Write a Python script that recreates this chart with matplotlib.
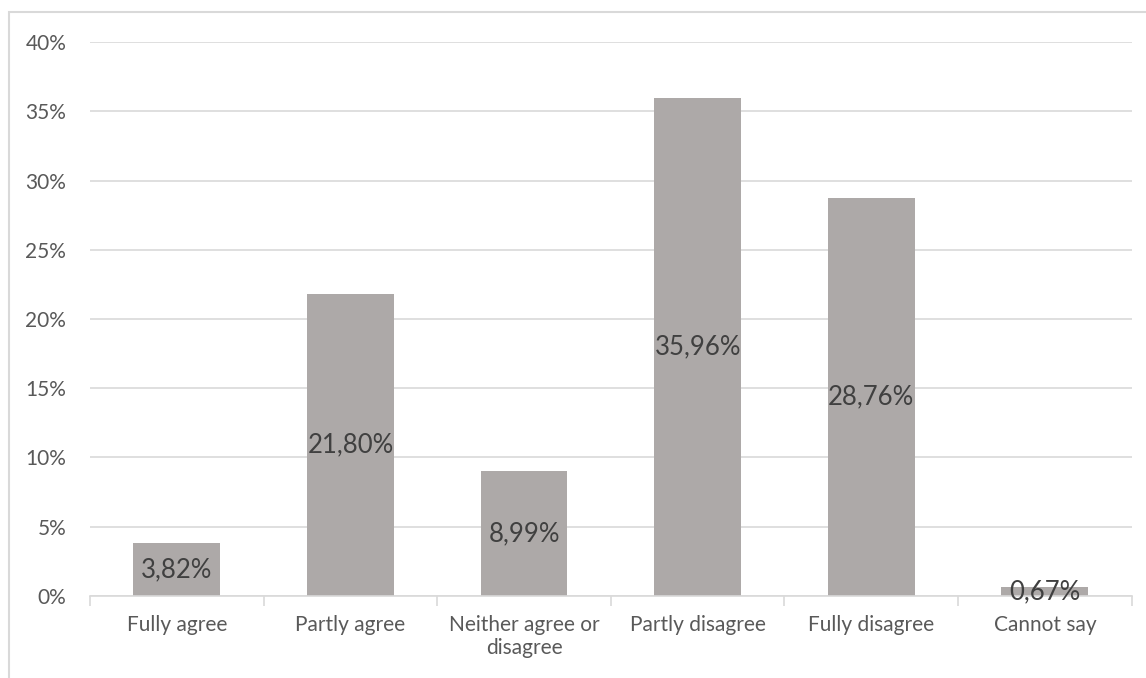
import matplotlib.pyplot as plt
from matplotlib.patches import Rectangle

categories = ['Fully agree', 'Partly agree', 'Neither agree or\ndisagree',
              'Partly disagree', 'Fully disagree', 'Cannot say']
values = [3.82, 21.80, 8.99, 35.96, 28.76, 0.67]
yticks = [0, 5, 10, 15, 20, 25, 30, 35, 40]

plt.rcParams['font.family'] = ['Lato', 'DejaVu Sans']

fig = plt.figure(figsize=(11.46, 6.78), dpi=100)
ax = fig.add_axes([0.0785, 0.121, 0.909, 0.817])

x = list(range(len(categories)))
bars = ax.bar(x, values, width=0.5, color='#ADA9A8', zorder=2)

# labels in the middle of each bar
for xi, v in zip(x, values):
    ax.text(xi, v / 2, f'{v:.2f}%'.replace('.', ','), ha='center', va='center',
            fontsize=18.5, color='#404040', zorder=3)

ax.set_xlim(-0.5, len(categories) - 0.5)
ax.set_ylim(0, 40)
ax.set_yticks(yticks)
ax.set_yticklabels([f'{t}%' for t in yticks])
ax.yaxis.grid(True, color='#D9D9D9', linewidth=1.2, zorder=0)

ax.set_xticks(x)
ax.set_xticklabels(categories, linespacing=1.15)
ax.set_xticks([i - 0.5 for i in range(len(categories) + 1)], minor=True)
ax.tick_params(axis='x', which='major', length=0, pad=14, labelsize=15, colors='#595959')
ax.tick_params(axis='x', which='minor', length=7, width=1.2, color='#D9D9D9')
ax.tick_params(axis='y', length=0, pad=17, labelsize=15, colors='#595959')

for s in ['top', 'right', 'left']:
    ax.spines[s].set_visible(False)
ax.spines['bottom'].set_color('#D9D9D9')
ax.spines['bottom'].set_linewidth(1.2)

# chart area border
fig.patches.append(Rectangle((9 / 1146, -0.1), 1.2, 1 - 12 / 678 + 0.1,
                             transform=fig.transFigure, fill=False,
                             edgecolor='#D9D9D9', linewidth=1.5))

fig.savefig('out.png', dpi=100)
